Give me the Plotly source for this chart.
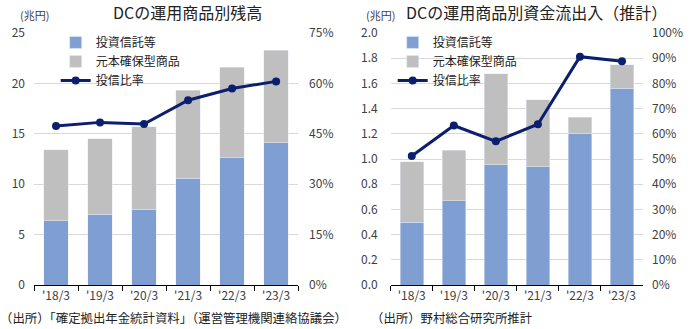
import plotly.graph_objects as go

categories = ["'18/3", "'19/3", "'20/3", "'21/3", "'22/3", "'23/3"]

# Left chart: balance (兆円)
bal_trust = [6.35, 7.04, 7.54, 10.6, 12.6, 14.1]
bal_principal = [7.05, 7.46, 8.16, 8.7, 9.0, 9.2]
bal_ratio = [47.3, 48.4, 47.9, 55.0, 58.5, 60.6]

# Right chart: flows (兆円)
flow_trust = [0.50, 0.67, 0.955, 0.94, 1.20, 1.56]
flow_principal = [0.48, 0.40, 0.72, 0.53, 0.13, 0.19]
flow_ratio = [51.2, 63.3, 57.0, 63.8, 90.6, 88.8]

BLUE = "#7f9fd3"
GRAY = "#bfbfbf"
NAVY = "#0c1f6f"
FONT = "Noto Sans CJK JP"
TXT = "#404040"

fig = go.Figure()

fig.add_trace(go.Bar(x=categories, y=bal_trust, name="投資信託等", marker_color=BLUE,
                     xaxis="x", yaxis="y", legend="legend"))
fig.add_trace(go.Bar(x=categories, y=bal_principal, name="元本確保型商品", marker_color=GRAY,
                     xaxis="x", yaxis="y", legend="legend"))
fig.add_trace(go.Scatter(x=categories, y=bal_ratio, name="投信比率", mode="lines+markers",
                         line=dict(color=NAVY, width=3), marker=dict(size=8, color=NAVY),
                         xaxis="x", yaxis="y2", legend="legend"))

fig.add_trace(go.Bar(x=categories, y=flow_trust, name="投資信託等", marker_color=BLUE,
                     xaxis="x2", yaxis="y3", legend="legend2"))
fig.add_trace(go.Bar(x=categories, y=flow_principal, name="元本確保型商品", marker_color=GRAY,
                     xaxis="x2", yaxis="y3", legend="legend2"))
fig.add_trace(go.Scatter(x=categories, y=flow_ratio, name="投信比率", mode="lines+markers",
                         line=dict(color=NAVY, width=3), marker=dict(size=8, color=NAVY),
                         xaxis="x2", yaxis="y4", legend="legend2"))

tickfont = dict(family=FONT, size=12, color=TXT)
xcommon = dict(type="category", showline=True, linecolor="#000000", linewidth=1,
               ticks="outside", tickson="boundaries", ticklen=5, tickcolor="#000000",
               showgrid=False, tickfont=tickfont)
ycommon = dict(showline=False, zeroline=False, tickfont=tickfont, ticks="")

legfont = dict(family=FONT, size=12, color="#222222")

fig.update_layout(
    width=695, height=329,
    margin=dict(l=32, r=45, t=33, b=44),
    paper_bgcolor="white", plot_bgcolor="white",
    barmode="stack", bargap=0.44,
    font=dict(family=FONT, size=12, color=TXT),
    xaxis=dict(domain=[0, 0.4337], **xcommon),
    xaxis2=dict(domain=[0.5858, 1], anchor="y3", **xcommon),
    yaxis=dict(range=[0, 25], dtick=5, showgrid=True, gridcolor="#d9d9d9",
               ticklabelstandoff=8, **ycommon),
    yaxis2=dict(range=[0, 75], dtick=15, overlaying="y", side="right", showgrid=False,
                ticksuffix="%", ticklabelstandoff=10, anchor="x", **ycommon),
    yaxis3=dict(range=[0, 2.0], dtick=0.2, tickformat=".1f", showgrid=True, gridcolor="#d9d9d9",
                anchor="x2", ticklabelstandoff=12, **ycommon),
    yaxis4=dict(range=[0, 100], dtick=10, overlaying="y3", side="right", showgrid=False,
                ticksuffix="%", anchor="x2", ticklabelstandoff=8, **ycommon),
    legend=dict(x=0.0356, y=1.02, xanchor="left", yanchor="top", bgcolor="rgba(0,0,0,0)",
                font=legfont, tracegroupgap=0, traceorder="normal"),
    legend2=dict(x=0.589, y=1.02, xanchor="left", yanchor="top", bgcolor="rgba(0,0,0,0)",
                 font=legfont, tracegroupgap=0, traceorder="normal"),
    showlegend=True,
)

ann = [
    dict(text="DCの運用商品別残高", x=188, y=12, font=dict(size=16, color="#222222")),
    dict(text="DCの運用商品別資金流出入（推計）", x=542, y=12, font=dict(size=16, color="#222222")),
    dict(text="(兆円)", x=33, y=15, font=dict(size=11, color=TXT)),
    dict(text="(兆円)", x=384, y=15, font=dict(size=11, color=TXT)),
    dict(text="（出所）「確定拠出年金統計資料」（運営管理機関連絡協議会）", x=174, y=318,
         font=dict(size=12.4, color="#222222")),
    dict(text="（出所）野村総合研究所推計", x=456, y=318, font=dict(size=12.4, color="#222222")),
]
annotations = []
for a in ann:
    annotations.append(dict(text=a["text"], xref="paper", yref="paper",
                            x=(a["x"] - 32) / 618, y=(329 - 44 - a["y"]) / 252,
                            xanchor="center", yanchor="middle", showarrow=False,
                            font=dict(family=FONT, **a["font"])))
fig.update_layout(annotations=annotations)

fig.write_html("out.html")
